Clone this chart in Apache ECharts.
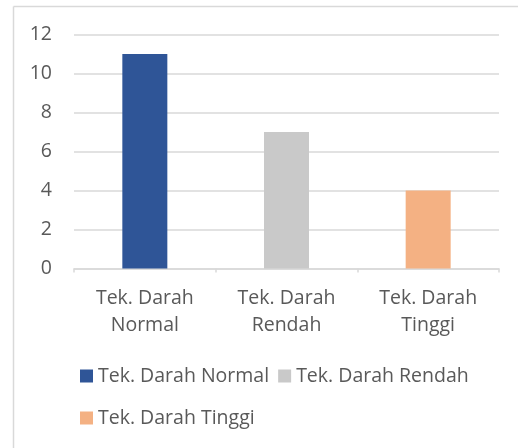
<!DOCTYPE html>
<html>
<head>
<meta charset="utf-8">
<script src="https://cdn.jsdelivr.net/npm/echarts@6/dist/echarts.min.js"></script>
<style>html,body{margin:0;padding:0;background:#fff;}#c{width:518px;height:448px;}</style>
</head>
<body>
<div id="c"></div>
<script>
const categories = ['Tek. Darah\nNormal', 'Tek. Darah\nRendah', 'Tek. Darah\nTinggi'];
const seriesNames = ['Tek. Darah Normal', 'Tek. Darah Rendah', 'Tek. Darah Tinggi'];
const values = [11, 7, 4];
const colors = ['#2F5597', '#C9C9C9', '#F4B183'];
const yTicks = [0, 2, 4, 6, 8, 10, 12];

const FONT = '"Open Sans", sans-serif';
const FS = 19.5;
const TXT = '#595959';
const LINE = '#D9D9D9';

const chart = echarts.init(document.getElementById('c'), null, {renderer: 'canvas'});
const series = seriesNames.map((name, i) => ({
  name: name,
  type: 'bar',
  barWidth: 45,
  barGap: '-100%',
  itemStyle: {color: colors[i]},
  data: values.map((v, j) => (j === i ? v : '-'))
}));

const legendBase = {
  left: 80,
  orient: 'horizontal',
  padding: 0,
  itemWidth: 13, itemHeight: 13, itemGap: 9,
  icon: 'rect',
  textStyle: {color: TXT, fontSize: FS, fontFamily: FONT, lineHeight: 20}
};

chart.setOption({
  animation: false,
  backgroundColor: '#fff',
  textStyle: {fontFamily: FONT},
  grid: {left: 74, right: 19, top: 34.5, bottom: 179.5, containLabel: false},
  xAxis: {
    type: 'category',
    data: categories,
    axisLine: {lineStyle: {color: LINE, width: 1.5}},
    axisTick: {show: true, length: 4, lineStyle: {color: LINE, width: 1.5}},
    axisLabel: {color: TXT, fontSize: FS, fontFamily: FONT, lineHeight: 27, margin: 16}
  },
  yAxis: {
    type: 'value',
    min: yTicks[0],
    max: yTicks[yTicks.length - 1],
    interval: 2,
    axisLine: {show: false},
    axisTick: {show: false},
    splitLine: {lineStyle: {color: LINE, width: 1.5}},
    axisLabel: {color: TXT, fontSize: FS, fontFamily: FONT, margin: 22}
  },
  legend: [
    Object.assign({}, legendBase, {data: seriesNames.slice(0, 2), top: 366}),
    Object.assign({}, legendBase, {data: seriesNames.slice(2), top: 408})
  ],
  graphic: [
    {type: 'line', shape: {x1: 13.5, y1: 6.5, x2: 518, y2: 6.5}, style: {stroke: LINE, lineWidth: 1.5}, silent: true},
    {type: 'line', shape: {x1: 13.5, y1: 6.5, x2: 13.5, y2: 448}, style: {stroke: LINE, lineWidth: 1.5}, silent: true}
  ],
  series: series
});
</script>
</body>
</html>
